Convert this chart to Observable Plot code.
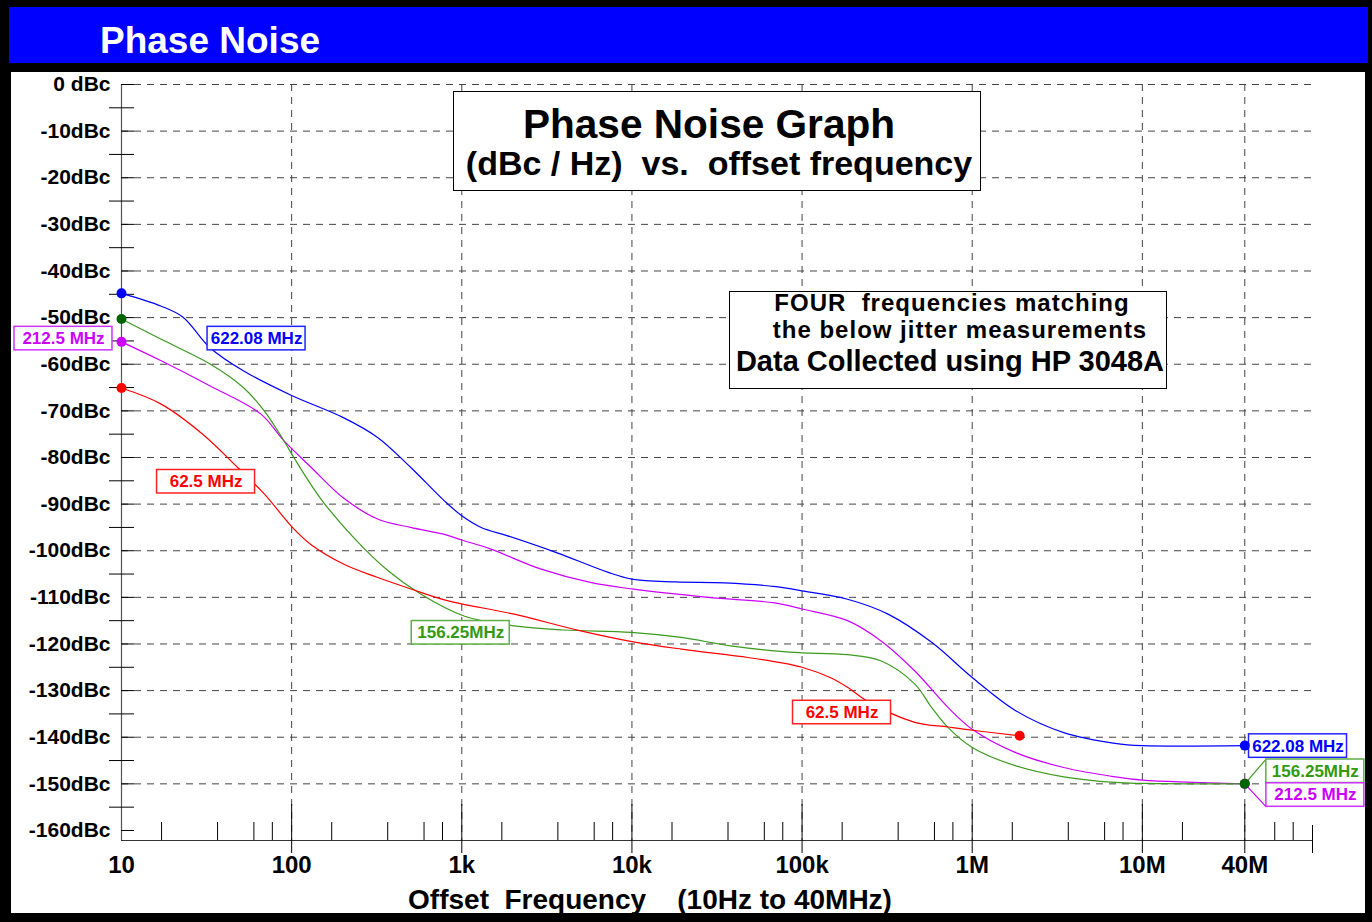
<!DOCTYPE html>
<html><head><meta charset="utf-8">
<script src="https://cdn.jsdelivr.net/npm/d3@7"></script>
<script src="https://cdn.jsdelivr.net/npm/@observablehq/plot@0.6"></script>
<style>
body{margin:0;background:#000;}
#page{position:relative;width:1372px;height:922px;background:#000;overflow:hidden;font-family:'Liberation Sans',Arial,Helvetica,sans-serif;font-weight:bold;}
.abs{position:absolute;white-space:pre;line-height:1;}
.c{text-align:center;}
</style></head><body>
<div id="page">
<div class="abs" style="left:9px;top:7px;width:1359px;height:56px;background:#0000ff"></div>
<div class="abs" style="left:11px;top:72px;width:1354px;height:841px;background:#fff"></div>
<div id="chart" class="abs" style="left:0;top:0;width:1372px;height:922px"></div>
<div class="abs" style="left:100px;top:21.7px;font-size:37px;color:#fff">Phase Noise</div>
<div class="abs" style="left:453px;top:91px;width:528px;height:100px;border:1.5px solid #000;box-sizing:border-box;background:#fff"></div>
<div class="abs c" style="left:309px;width:800px;top:103.6px;font-size:40.6px;color:#000">Phase Noise Graph</div>
<div class="abs c" style="left:319px;width:800px;top:146.2px;font-size:34px;color:#000">(dBc / Hz)  vs.  offset frequency</div>
<div class="abs" style="left:729px;top:291px;width:438px;height:98px;border:1.5px solid #000;box-sizing:border-box;background:#fff"></div>
<div class="abs c" style="left:552px;width:800px;top:291.2px;font-size:24px;letter-spacing:1px;color:#000">FOUR  frequencies matching</div>
<div class="abs c" style="left:560px;width:800px;top:317.9px;font-size:24px;letter-spacing:1px;color:#000">the below jitter measurements</div>
<div class="abs c" style="left:550px;width:800px;top:347.2px;font-size:29px;color:#000">Data Collected using HP 3048A</div>
<div class="abs c" style="left:250px;width:800px;top:886.3px;font-size:28px;color:#000">Offset  Frequency    (10Hz to 40MHz)</div>
</div>
<script>
// ---- axis ticks ----
const xTickValues = [10, 100, 1e3, 1e4, 1e5, 1e6, 1e7, 4e7];
const xTickLabels = ["10", "100", "1k", "10k", "100k", "1M", "10M", "40M"];
const xGridValues = [100, 1e3, 1e4, 1e5, 1e6, 1e7, 4e7];
const xMinorValues = [17.2, 36.7, 60, 77, 172, 367, 600, 770, 1720, 3670, 6000, 7700,
  17200, 36700, 60000, 77000, 172000, 367000, 600000, 770000,
  1.72e6, 3.67e6, 6e6, 7.7e6, 1.72e7, 6e7, 7.7e7];
const xDomain = [10, 1e8];
const yTickValues = [0, -10, -20, -30, -40, -50, -60, -70, -80, -90, -100, -110, -120, -130, -140, -150, -160];
const yTickLabels = ["0 dBc", "-10dBc", "-20dBc", "-30dBc", "-40dBc", "-50dBc", "-60dBc", "-70dBc", "-80dBc",
  "-90dBc", "-100dBc", "-110dBc", "-120dBc", "-130dBc", "-140dBc", "-150dBc", "-160dBc"];
const yGridValues = [0, -10, -20, -30, -40, -50, -60, -70, -80, -90, -100, -110, -120, -130, -140, -150];
const yMinorValues = [-5, -15, -25, -35, -45, -55, -65, -75, -85, -95, -105, -115, -125, -135, -145, -155];
const yDomain = [-162.15, 0];

// ---- series ----
const seriesNames = ["622.08 MHz", "212.5 MHz", "156.25MHz", "62.5 MHz"];
const freq622 = [10, 17, 23, 33, 52, 100, 200, 320, 500, 790, 1000, 1300, 1860, 3600, 7200, 10000, 18000, 35000, 70000, 100000, 185000, 320000, 580000, 1e6, 1.8e6, 3.45e6, 6.9e6, 1e7, 4e7];
const dbc622  = [-44.8, -47.5, -49.9, -56.4, -61.4, -66.7, -71.4, -75.7, -82.1, -89.3, -92.5, -95.0, -96.8, -100.4, -104.6, -106.1, -106.7, -106.9, -107.7, -108.6, -110.4, -113.6, -119.7, -127.2, -134.3, -139.0, -141.3, -141.8, -141.8];
const freq212 = [10, 17, 33, 66, 90, 130, 200, 320, 500, 790, 1000, 1470, 2900, 5700, 10000, 28000, 69000, 100000, 185000, 290000, 460000, 720000, 1e6, 1.8e6, 3.45e6, 6.9e6, 1e7, 4e7];
const dbc212  = [-55.2, -59.2, -64.6, -70.7, -76.4, -82.1, -88.6, -93.2, -95.0, -96.5, -97.7, -99.6, -103.9, -106.8, -108.2, -110.0, -111.2, -112.5, -115.0, -119.3, -125.8, -133.6, -138.3, -143.3, -146.5, -148.5, -149.2, -150.0];
const freq156 = [10, 17, 33, 52, 69, 90, 103, 148, 233, 366, 573, 1030, 2030, 4000, 9900, 19500, 38000, 75000, 100000, 185000, 290000, 460000, 577000, 720000, 1e6, 1.79e6, 3.45e6, 6.9e6, 1e7, 4e7];
const dbc156  = [-50.3, -54.6, -59.9, -65.0, -70.0, -76.4, -80.0, -88.8, -97.3, -104.2, -109.3, -114.0, -116.1, -117.0, -117.5, -118.6, -120.4, -121.6, -121.9, -122.3, -123.6, -128.6, -133.6, -137.9, -142.2, -146.1, -148.5, -149.7, -149.9, -150.0];
const freq62  = [10, 17, 30, 48, 69, 101, 129, 203, 318, 502, 822, 2030, 5000, 10000, 19500, 48000, 75000, 100000, 146000, 185000, 240000, 460000, 720000, 1e6, 1.9e6];
const dbc62   = [-65.1, -68.5, -75.0, -82.1, -87.8, -95.0, -98.6, -102.9, -105.7, -108.2, -110.7, -113.6, -117.2, -119.5, -121.1, -122.9, -124.0, -125.0, -127.2, -129.3, -132.2, -136.8, -137.8, -138.5, -139.7];

// ---- annotations (box centres) ----
const labelTexts  = ["622.08 MHz", "212.5 MHz", "62.5 MHz", "156.25MHz", "62.5 MHz", "622.08 MHz", "156.25MHz", "212.5 MHz"];
const labelSeries = [0, 1, 3, 2, 3, 0, 2, 1];
const labelFreq   = [62.2, 4.56, 31.4, 986, 171700, 82.2e6, 103.9e6, 104e6];
const labelDbc    = [-54.5, -54.5, -85.2, -117.6, -134.7, -141.9, -147.3, -152.4];
const leaderSeries = [2, 1];
const leaderFreq   = [53.1e6, 53.6e6];
const leaderDbc    = [-144.8, -155.0];

// ---- styles ----
const lineColors = ["#0000ff", "#cc00ff", "#3c9a1e", "#ff0000"];
const dotColors  = ["#0000ff", "#cc00ff", "#006400", "#ff0000"];
const textColors = ["#0000ff", "#cc00ff", "#339911", "#ff0000"];
const boxColors  = ["#2222ff", "#cc33ff", "#5fae48", "#ff2222"];
const FONT = "'Liberation Sans', Arial, Helvetica, sans-serif";

const seriesFreq = [freq622, freq212, freq156, freq62];
const seriesDbc = [dbc622, dbc212, dbc156, dbc62];
const series = seriesNames.map((name, s) => ({
  name, s,
  points: seriesFreq[s].map((f, i) => ({f, dbc: seriesDbc[s][i], s}))
}));
const labels = labelTexts.map((t, i) => ({t, s: labelSeries[i], f: labelFreq[i], dbc: labelDbc[i]}));
const leaders = leaderSeries.map((s, i) => {
  const p = series[s].points;
  return {s, f1: p[p.length - 1].f, d1: p[p.length - 1].dbc, f2: leaderFreq[i], d2: leaderDbc[i]};
});
const dots = series.flatMap(ser => [ser.points[0], ser.points[ser.points.length - 1]]);

const W = 1372, H = 922, mL = 121, mR = 60, mT = 84, mB = 82;
const plotW = W - mL - mR, plotH = H - mT - mB;

const marks = [
  Plot.ruleY(yGridValues, {stroke: "#444", strokeDasharray: "7,6", strokeWidth: 1}),
  Plot.ruleX(xGridValues, {stroke: "#444", strokeDasharray: "7,6", strokeWidth: 1}),
  Plot.ruleX([xDomain[0]], {stroke: "#555", strokeWidth: 1.2}),
  Plot.ruleY([yDomain[0]], {stroke: "#333", strokeWidth: 1.2}),
  Plot.tickY(yTickValues, {y: d => d, stroke: "#000", insetRight: plotW - 13}),
  Plot.tickY(yMinorValues, {y: d => d, stroke: "#000", insetLeft: -12, insetRight: plotW - 13}),
  Plot.tickX(xGridValues, {x: d => d, stroke: "#000", insetTop: plotH - 36, insetBottom: -13}),
  Plot.tickX(xMinorValues, {x: d => d, stroke: "#000", insetTop: plotH - 18}),
  Plot.tickX([xDomain[1]], {x: d => d, stroke: "#000", insetTop: plotH - 15, insetBottom: -13}),
  Plot.text(yTickValues, {y: d => d, text: (d, i) => yTickLabels[i], frameAnchor: "left", dx: -11, textAnchor: "end",
    fontSize: 21, fontWeight: "bold", fontFamily: FONT, fill: "#000"}),
  Plot.text(xTickValues, {x: d => d, text: (d, i) => xTickLabels[i], frameAnchor: "bottom", dy: 32,
    fontSize: 24, fontWeight: "bold", fontFamily: FONT, fill: "#000"})
];
for (const ser of series) {
  marks.push(Plot.line(ser.points, {x: "f", y: "dbc", stroke: lineColors[ser.s], strokeWidth: 1.2, curve: "catmull-rom"}));
}
for (const ld of leaders) {
  marks.push(Plot.link([ld], {x1: "f1", y1: "d1", x2: "f2", y2: "d2", stroke: lineColors[ld.s], strokeWidth: 1.2}));
}
for (const lb of labels) {
  marks.push(Plot.rect([lb], {x1: "f", x2: "f", y1: "dbc", y2: "dbc", insetLeft: -49, insetRight: -49, insetTop: -11.75, insetBottom: -11.75,
    fill: "#fff", stroke: boxColors[lb.s], strokeWidth: 1.5}));
  marks.push(Plot.text([lb], {x: "f", y: "dbc", text: "t", fill: textColors[lb.s], fontSize: 17, fontWeight: "bold", fontFamily: FONT}));
}
for (const d of dots) {
  marks.push(Plot.dot([d], {x: "f", y: "dbc", r: 5, fill: dotColors[d.s], stroke: "none"}));
}

const chart = Plot.plot({
  width: W, height: H,
  marginLeft: mL, marginRight: mR, marginTop: mT, marginBottom: mB,
  x: {type: "log", domain: xDomain, axis: null},
  y: {domain: yDomain, axis: null},
  style: {background: "transparent", fontFamily: FONT, overflow: "visible", maxWidth: "none"},
  marks
});
document.getElementById("chart").appendChild(chart);
</script>
</body></html>
